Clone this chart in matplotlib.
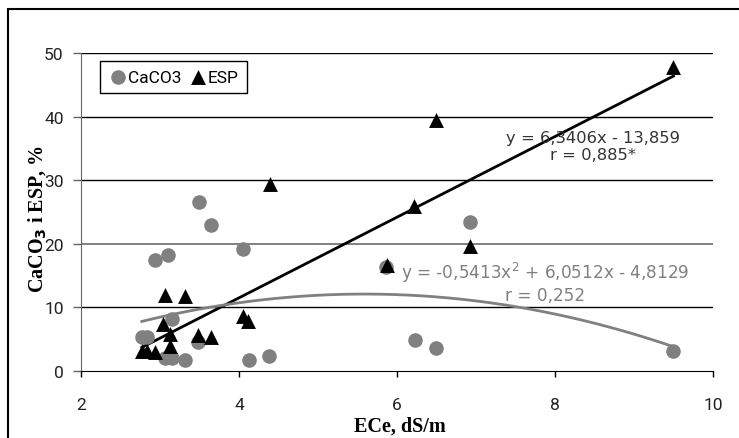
import matplotlib
matplotlib.use("Agg")
import matplotlib.pyplot as plt
from matplotlib.patches import Rectangle
import numpy as np

# data
caco3_x = [2.77, 2.83, 2.94, 3.06, 3.10, 3.15, 3.15, 3.32, 3.48, 3.50, 3.65, 4.05, 4.13, 4.38, 5.86, 6.23, 6.50, 6.92, 9.50]
caco3_y = [5.3, 5.3, 17.5, 2.1, 18.3, 8.2, 2.1, 1.8, 4.6, 26.5, 23.0, 19.2, 1.8, 2.3, 16.3, 4.8, 3.6, 23.4, 3.1]

esp_x = [2.77, 2.83, 2.94, 3.04, 3.06, 3.13, 3.13, 3.32, 3.48, 3.65, 4.05, 4.12, 4.39, 5.87, 6.22, 6.50, 6.93, 9.50]
esp_y = [3.2, 3.2, 3.0, 7.4, 11.9, 5.8, 4.0, 11.8, 5.6, 5.3, 8.7, 7.8, 29.4, 16.6, 26.0, 39.4, 19.7, 47.8]

# trend line coefficients (highest power first), as printed on the chart
esp_fit = [6.3406, -13.859]
caco3_fit = [-0.5413, 6.0512, -4.8129]

x_ticks = [2, 4, 6, 8, 10]
y_ticks = [0, 10, 20, 30, 40, 50]

sans = ["Roboto", "DejaVu Sans"]
wide = ["DejaVu Sans"]
serif = ["Liberation Serif", "DejaVu Serif"]

fig = plt.figure(figsize=(7.39, 4.39), dpi=100)
ax = fig.add_axes([0.1096, 0.1526, 0.8552, 0.7244])

# outer chart border (only left and top are visible in the picture)
fig.add_artist(Rectangle((8 / 739, -0.2), 1.5, 1.2 - 10 / 439,
                         transform=fig.transFigure, fill=False,
                         edgecolor="black", lw=1.5))

for yv in y_ticks[1:]:
    c = "#808080" if yv == 20 else "black"
    ax.axhline(yv, color=c, lw=1.0 if yv != 20 else 1.4, zorder=1)

xs = np.linspace(min(esp_x), max(esp_x), 200)
ax.plot(xs, np.polyval(esp_fit, xs), color="black", lw=2, zorder=3)
xq = np.linspace(min(caco3_x), max(caco3_x), 200)
ax.plot(xq, np.polyval(caco3_fit, xq), color="#808080", lw=2, zorder=3)

ax.scatter(caco3_x, caco3_y, s=110, color="#808080", marker="o",
           linewidths=0, label="CaCO3", zorder=4)
ax.scatter(esp_x, esp_y, s=115, color="black", marker="^",
           linewidths=0, label="ESP", zorder=5)

ax.set_xlim(2, 10)
ax.set_ylim(0, 50)
ax.set_xticks(x_ticks)
ax.set_yticks(y_ticks)
ax.tick_params(axis="x", direction="out", length=4.5, width=1,
               colors="black", labelcolor="#222222", labelsize=12.5, pad=14)
ax.tick_params(axis="y", direction="out", length=5.5, width=1,
               colors="#666666", labelcolor="#222222", labelsize=12.5, pad=7)
for lab in ax.get_xticklabels() + ax.get_yticklabels():
    lab.set_family(sans)

for s in ["top", "right"]:
    ax.spines[s].set_visible(False)
ax.spines["left"].set_color("#666666")
ax.spines["bottom"].set_color("black")

ax.set_xlabel("ECe, dS/m", family=serif, fontweight="bold", fontsize=14.5)
ax.xaxis.set_label_coords(0.505, -0.140)
ax.set_ylabel("CaCO$_\\mathbf{3}$ i ESP, %", family=serif, fontweight="bold",
              fontsize=14.5)
ax.yaxis.set_label_coords(-0.052, 0.481)

leg = ax.legend(loc="upper left", bbox_to_anchor=(0.030, 0.975),
                borderaxespad=0, ncol=2, fancybox=False, framealpha=1,
                edgecolor="black", handletextpad=0.0, columnspacing=0.4,
                borderpad=0.5, handlelength=1.1,
                prop={"family": sans, "size": 12.5})
leg.get_frame().set_linewidth(1.0)

ax.text(8.48, 35.4, "y = 6,3406x - 13,859\nr = 0,885*", ha="center",
        va="center", fontsize=11.8, family=wide, color="#333333",
        linespacing=1.15, zorder=6)
ax.text(7.88, 14.0, "y = -0,5413x$^2$ + 6,0512x - 4,8129\nr = 0,252",
        ha="center", va="center", fontsize=12.2, family=wide, color="#808080",
        linespacing=1.1, zorder=6)

fig.savefig("out.png", dpi=100)
